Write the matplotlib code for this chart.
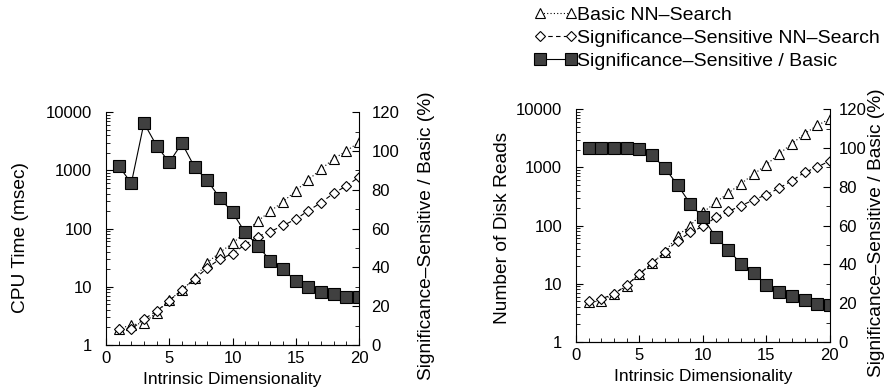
import matplotlib
matplotlib.use("Agg")
import matplotlib.pyplot as plt
from matplotlib import ticker

plt.rcParams["font.family"] = ["Liberation Sans", "DejaVu Sans"]

dims = list(range(1, 21))

# CPU time (msec)
cpu_basic = [1.9, 2.2, 2.4, 3.6, 5.9, 8.8, 14, 26, 39, 56, 85, 135, 200, 290, 445,
             690, 1050, 1580, 2160, 3040]
cpu_sig = [1.9, 1.86, 2.8, 3.8, 5.8, 8.8, 13.6, 21, 30, 37, 53, 73, 89, 113, 145,
           203, 280, 405, 540, 765]
cpu_ratio = [92.3, 83.4, 114.4, 102.7, 94.1, 104, 91.7, 84.8, 75.8, 68.3, 58, 51.2,
             43.3, 39, 33, 29.7, 27.5, 26.1, 24.6, 24.6]

# disk reads
disk_basic = [4.8, 5.1, 6.7, 9.3, 14.7, 22.7, 35, 67, 100, 168, 250, 362, 525, 765,
              1107, 1710, 2540, 3770, 5250, 6820]
disk_sig = [5.1, 5.5, 6.7, 9.5, 14.7, 22.7, 35, 55, 76, 97, 138, 175, 219, 277, 338,
            440, 589, 818, 1010, 1297]
disk_ratio = [100, 100, 100, 100, 99.4, 96.3, 89.6, 81, 71.2, 64.2, 54.1, 47.6, 40.2,
              35.5, 29.5, 25.6, 23.5, 21.8, 19.6, 19.2]

labels = ["Basic NN\u2013Search", "Significance\u2013Sensitive NN\u2013Search",
          "Significance\u2013Sensitive / Basic"]
right_label = "Significance\u2013Sensitive / Basic (%)"

TICK_FS = 12
XLAB_FS = 12.5
YLAB_FS = 13.8
LEG_FS = 14


def panel(rect, basic, sig, ratio, ylabel, lpad, ly, rpad, rlabpad):
    ax = fig.add_axes(rect)
    ax2 = ax.twinx()
    h1, = ax.plot(dims, basic, ls=(0, (1, 2)), lw=0.8, color="black", marker="^",
                  ms=7.5, mfc="white", mec="black", mew=0.8)
    h2, = ax.plot(dims, sig, ls=(0, (4, 3)), lw=0.8, color="black", marker="D",
                  ms=5.5, mfc="white", mec="black", mew=0.8)
    h3, = ax2.plot(dims, ratio, ls="-", lw=0.8, color="black", marker="s",
                   ms=8, mfc="#404040", mec="black", mew=0.8)
    ax.set_yscale("log")
    ax.set_ylim(1, 10000)
    ax.set_xlim(0, 20)
    ax2.set_ylim(0, 120)
    ax.yaxis.set_major_formatter(ticker.FuncFormatter(lambda v, p: f"{v:g}"))
    ax.yaxis.set_minor_formatter(ticker.NullFormatter())
    ax.xaxis.set_major_locator(ticker.MultipleLocator(5))
    ax.xaxis.set_minor_locator(ticker.MultipleLocator(1))
    ax2.yaxis.set_major_locator(ticker.MultipleLocator(20))
    ax2.yaxis.set_minor_locator(ticker.MultipleLocator(10))
    for a in (ax, ax2):
        a.spines["top"].set_visible(False)
        a.tick_params(which="major", direction="in", length=5, width=0.8,
                      labelsize=TICK_FS)
        a.tick_params(which="minor", direction="in", length=3, width=0.6)
    ax.tick_params(axis="y", which="major", pad=10)
    ax.tick_params(axis="x", which="major", pad=4)
    ax2.tick_params(axis="y", which="major", pad=rpad)
    ax.spines["right"].set_visible(False)
    ax2.spines["left"].set_visible(False)
    ax.set_xlabel("Intrinsic Dimensionality", fontsize=XLAB_FS, labelpad=5)
    ax.set_ylabel(ylabel, fontsize=YLAB_FS, labelpad=lpad)
    ax.yaxis.label.set_y(ly)
    ax2.set_ylabel(right_label, fontsize=YLAB_FS, labelpad=rlabpad)
    ax2.yaxis.label.set_y(0.47)
    return h1, h2, h3


fig = plt.figure(figsize=(8.88, 3.92), dpi=100)
handles = panel([0.1194, 0.1199, 0.2849, 0.594], cpu_basic, cpu_sig, cpu_ratio,
                "CPU Time (msec)", 12, 0.46, 9, 13.5)
panel([0.6486, 0.1276, 0.286, 0.594], disk_basic, disk_sig, disk_ratio,
      "Number of Disk Reads", 3.5, 0.49, 6, 1.5)

fig.legend(handles, labels, loc="upper left", bbox_to_anchor=(0.601, 0.983),
           frameon=False, numpoints=2, handlelength=2.2, handletextpad=0.05,
           labelspacing=0.26, fontsize=LEG_FS, borderaxespad=0, borderpad=0)

fig.savefig("out.png", dpi=100)
